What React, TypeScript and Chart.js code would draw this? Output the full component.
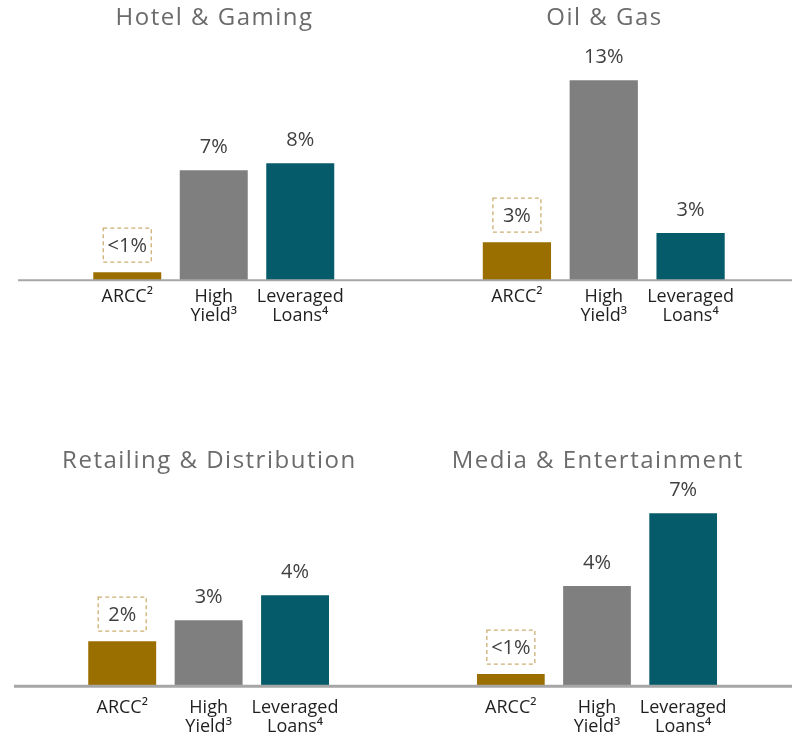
import React, { useEffect, useRef } from "react";
import { Chart, registerables } from "chart.js";

Chart.register(...registerables);

// ---------- data ----------
const CATEGORIES: string[][] = [["ARCC²"], ["High", "Yield³"], ["Leveraged", "Loans⁴"]];

const HOTEL_TITLE = "Hotel & Gaming";
const HOTEL_VALUES = [0.52, 7.15, 7.6];
const HOTEL_LABELS = ["<1%", "7%", "8%"];

const OIL_TITLE = "Oil & Gas";
const OIL_VALUES = [2.47, 13.0, 3.06];
const OIL_LABELS = ["3%", "13%", "3%"];

const RETAIL_TITLE = "Retailing & Distribution";
const RETAIL_VALUES = [1.82, 2.67, 3.68];
const RETAIL_LABELS = ["2%", "3%", "4%"];

const MEDIA_TITLE = "Media & Entertainment";
const MEDIA_VALUES = [0.49, 4.05, 7.0];
const MEDIA_LABELS = ["<1%", "4%", "7%"];

const TOP_ROW_MAX = 14;
const BOTTOM_ROW_MAX = 8;

// ---------- styles ----------
const BAR_COLORS = ["#9b6e00", "#7f7f7f", "#055b6a"];
const FONT = "'Open Sans', 'DejaVu Sans', sans-serif";

const panelTitlePlugin = {
  id: "panelTitle",
  afterDraw(chart: any, _args: any, opts: any) {
    const { ctx, chartArea } = chart;
    ctx.save();
    ctx.font = `400 24px ${FONT}`;
    (ctx as any).letterSpacing = "1.5px";
    ctx.fillStyle = "#6b6b6b";
    ctx.textAlign = "center";
    ctx.textBaseline = "middle";
    ctx.fillText(opts.text, (chartArea.left + chartArea.right) / 2 + 0.75, opts.y);
    ctx.restore();
  },
};

const valueLabelPlugin = {
  id: "valueLabels",
  afterDatasetsDraw(chart: any, _args: any, opts: any) {
    const { ctx } = chart;
    const meta = chart.getDatasetMeta(0);
    const labels: string[] = opts.labels || [];
    ctx.save();
    ctx.font = `400 20px ${FONT}`;
    ctx.textAlign = "center";
    ctx.textBaseline = "middle";
    meta.data.forEach((bar: any, i: number) => {
      const boxed = i === opts.boxedIndex;
      const cy = bar.y - (boxed ? 27 : 24);
      if (boxed) {
        ctx.save();
        ctx.setLineDash([4, 3]);
        ctx.strokeStyle = "#cdae72";
        ctx.lineWidth = 1.3;
        ctx.strokeRect(bar.x - 24, cy - 17, 48, 34);
        ctx.restore();
      }
      ctx.fillStyle = "#404040";
      ctx.fillText(labels[i], bar.x, cy + 1);
    });
    ctx.restore();
  },
};

const baselinePlugin = {
  id: "baseline",
  afterDatasetsDraw(chart: any, _args: any, opts: any) {
    const { ctx } = chart;
    const y = chart.scales.y.getPixelForValue(0);
    ctx.save();
    ctx.strokeStyle = "#a6a6a6";
    ctx.lineWidth = opts.width;
    ctx.beginPath();
    ctx.moveTo(opts.start, y);
    ctx.lineTo(chart.width, y);
    ctx.stroke();
    ctx.restore();
  },
};

type PanelProps = {
  title: string;
  values: number[];
  labels: string[];
  yMax: number;
  left: number;
  top: number;
  width: number;
  height: number;
  padLeft: number;
  padRight: number;
  padTop: number;
  titleY: number;
  tickPad: number;
  lineStart: number;
  lineWidth: number;
};

function Panel(p: PanelProps) {
  const ref = useRef<HTMLCanvasElement | null>(null);
  useEffect(() => {
    if (!ref.current) return;
    const chart = new Chart(ref.current, {
      type: "bar",
      data: {
        labels: CATEGORIES,
        datasets: [
          {
            data: p.values,
            backgroundColor: BAR_COLORS,
            borderWidth: 0,
            barPercentage: 0.786,
            categoryPercentage: 1,
          },
        ],
      },
      plugins: [valueLabelPlugin, baselinePlugin, panelTitlePlugin],
      options: {
        responsive: false,
        animation: false,
        layout: { padding: { left: p.padLeft, right: p.padRight, top: p.padTop, bottom: 0 } },
        plugins: {
          legend: { display: false },
          tooltip: { enabled: false },
          title: { display: false },
          panelTitle: { text: p.title, y: p.titleY },
          valueLabels: { labels: p.labels, boxedIndex: 0 },
          baseline: { start: p.lineStart, width: p.lineWidth },
        } as any,
        scales: {
          x: {
            grid: { display: false, drawTicks: false },
            border: { display: false },
            ticks: {
              color: "#1f1f1f",
              padding: p.tickPad,
              maxRotation: 0,
              autoSkip: false,
              font: { family: FONT, size: 18, lineHeight: 1.05 },
            },
          },
          y: {
            display: false,
            min: 0,
            max: p.yMax,
          },
        },
      },
    });
    return () => chart.destroy();
  }, []);
  return (
    <canvas
      ref={ref}
      width={p.width}
      height={p.height}
      style={{ position: "absolute", left: p.left, top: p.top, width: p.width, height: p.height }}
    />
  );
}

export default function App() {
  const topCommon = { yMax: TOP_ROW_MAX, top: 0, width: 396, height: 333, padTop: 64.8, titleY: 18.5, tickPad: 7.5, lineWidth: 2 };
  const botCommon = { yMax: BOTTOM_ROW_MAX, top: 420, width: 396, height: 329, padTop: 68.4, titleY: 41, tickPad: 12.5, lineWidth: 3 };
  return (
    <div style={{ position: "fixed", left: 0, top: 0, width: 792, height: 737, overflow: "hidden", background: "#ffffff" }}>
      <Panel {...topCommon} title={HOTEL_TITLE} values={HOTEL_VALUES} labels={HOTEL_LABELS} left={0} padLeft={84} padRight={52.5} lineStart={18} />
      <Panel {...topCommon} title={OIL_TITLE} values={OIL_VALUES} labels={OIL_LABELS} left={396} padLeft={77.5} padRight={58} lineStart={0} />
      <Panel {...botCommon} title={RETAIL_TITLE} values={RETAIL_VALUES} labels={RETAIL_LABELS} left={0} padLeft={79} padRight={57.75} lineStart={14} />
      <Panel {...botCommon} title={MEDIA_TITLE} values={MEDIA_VALUES} labels={MEDIA_LABELS} left={396} padLeft={71.75} padRight={65.75} lineStart={0} />
    </div>
  );
}
